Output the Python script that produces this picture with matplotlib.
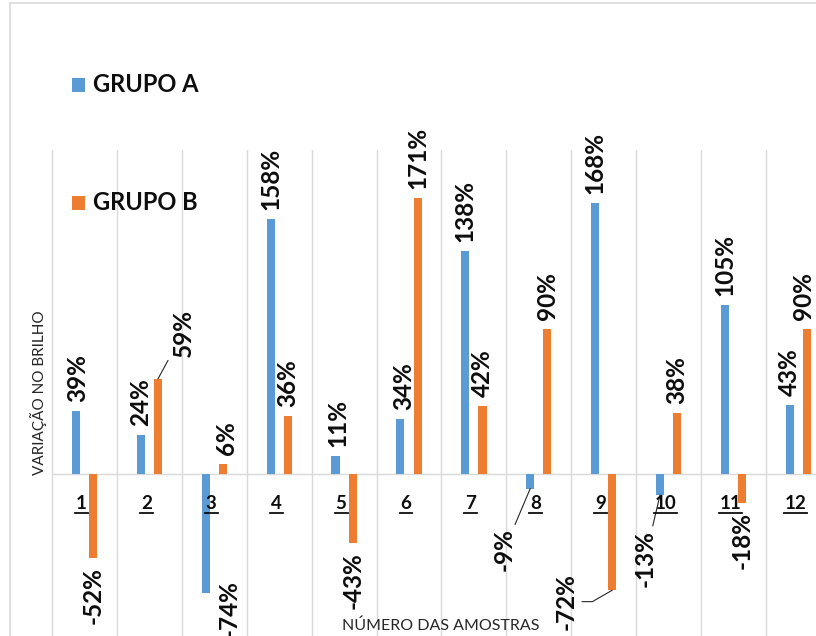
import numpy as np
import matplotlib
matplotlib.use('Agg')
import matplotlib.pyplot as plt
from matplotlib.lines import Line2D
from matplotlib.patches import Rectangle

# ---------------- data ----------------
categories = ['1', '2', '3', '4', '5', '6', '7', '8', '9', '10', '11', '12']
grupo_a = [39, 24, -74, 158, 11, 34, 138, -9, 168, -13, 105, 43]
grupo_b = [-52, 59, 6, 36, -43, 171, 42, 90, -72, 38, -18, 90]
series_names = ['GRUPO A', 'GRUPO B']
y_title = 'VARIAÇÃO NO BRILHO'
x_title = 'NÚMERO DAS AMOSTRAS'

# ---------------- style ----------------
BLUE = '#5B9BD5'
ORANGE = '#ED7D31'
GRID = '#D9D9D9'
TXT = '#0D0D0D'
FONT = ['Lato', 'DejaVu Sans']
plt.rcParams['font.family'] = FONT

W, H = 816, 636
fig = plt.figure(figsize=(W / 100, H / 100), dpi=100)


def fx(px):
    return px / W


def fy(py):
    return 1 - py / H


# plot area: top at y=150 px, bottom at figure bottom
ax = fig.add_axes([0, 0, 1, fy(150)])
ax.set_xlim(-0.302, 12.271)
ax.set_ylim(-100.4, 200.9)
ax.axis('off')

x = np.arange(1, len(categories) + 1)
off = 0.132
bw = 0.125

for g in np.arange(0.5, len(categories) + 0.5, 1):
    ax.axvline(g, color=GRID, lw=1, zorder=0)
ax.hlines(0, 0.5, 12.271, color=GRID, lw=1, zorder=1)

ax.bar(x - off, grupo_a, bw, color=BLUE, zorder=2)
ax.bar(x + off, grupo_b, bw, color=ORANGE, zorder=2)

LBL = dict(fontsize=17.5, fontweight='bold', color=TXT, rotation=90,
           ha='center', textcoords='offset pixels', annotation_clip=False)

# per-label tweaks: (dx, dy) in px, leader line flag, connection style
special_a = {0: (2, None), 2: (23, 13), 4: (2, None), 5: (3, None),
             7: (-26, -40, True), 9: (-15, -35, True)}
special_b = {1: (25, 22, True), 2: (4, None), 8: (-46, 17, True, 'angle'),
             11: (-3, None)}

GAP = 9


def label_series(vals, xpos, special):
    for i, (xv, v) in enumerate(zip(xpos, vals)):
        sp = special.get(i, (0, None))
        dx = sp[0]
        dy = sp[1] if sp[1] is not None else (GAP if v >= 0 else -GAP)
        leader = len(sp) > 2 and sp[2]
        va = 'bottom' if v >= 0 else 'top'
        kw = dict(LBL)
        if leader:
            ap = dict(arrowstyle='-', color='#262626', lw=0.8,
                      shrinkA=1, shrinkB=0)
            if len(sp) > 3 and sp[3] == 'angle':
                ap['connectionstyle'] = 'angle,angleA=0,angleB=30,rad=0'
                ap['relpos'] = (1.0, 0.5)
            kw['arrowprops'] = ap
        ax.annotate(f'{v}%', xy=(xv, v), xytext=(dx, dy), va=va, **kw)


label_series(grupo_a, x - off, special_a)
label_series(grupo_b, x + off, special_b)

# category labels (bold, underlined)
cat_texts = []
for xi, c in zip(x, categories):
    t = ax.annotate(c, xy=(xi, 0), xytext=(-3, -29), textcoords='offset pixels',
                    ha='center', va='center', fontsize=13.5, fontweight='bold',
                    color=TXT, annotation_clip=False)
    cat_texts.append(t)

# axis titles
fig.text(fx(39), fy(393), y_title, rotation=90, ha='center', va='center',
         fontsize=11, color='#262626')
fig.text(fx(441), fy(626), x_title, ha='center', va='center',
         fontsize=11.5, color='#262626')

# legend (stacked, top-left)
for name, col, yc in zip(series_names, [BLUE, ORANGE], [85, 203]):
    fig.add_artist(Rectangle((fx(72), fy(yc + 7)), 13 / W, 14 / H,
                             transform=fig.transFigure, color=col, lw=0))
    fig.text(fx(93), fy(yc), name, ha='left', va='center', fontsize=17,
             fontweight='bold', color=TXT)

# chart border (top / left)
fig.add_artist(Line2D([fx(10), 1], [fy(3), fy(3)], color=GRID, lw=1.2,
                      transform=fig.transFigure))
fig.add_artist(Line2D([fx(10), fx(10)], [fy(3), 0], color=GRID, lw=1.2,
                      transform=fig.transFigure))

# underline category labels
fig.canvas.draw()
r = fig.canvas.get_renderer()
for t in cat_texts:
    bb = t.get_window_extent(r)
    yl = bb.y0 - 1
    fig.add_artist(Line2D([bb.x0 / W - 1 / W, bb.x1 / W + 1 / W], [yl / H, yl / H],
                          color=TXT, lw=1.3, transform=fig.transFigure))

fig.savefig('out.png', dpi=100)
